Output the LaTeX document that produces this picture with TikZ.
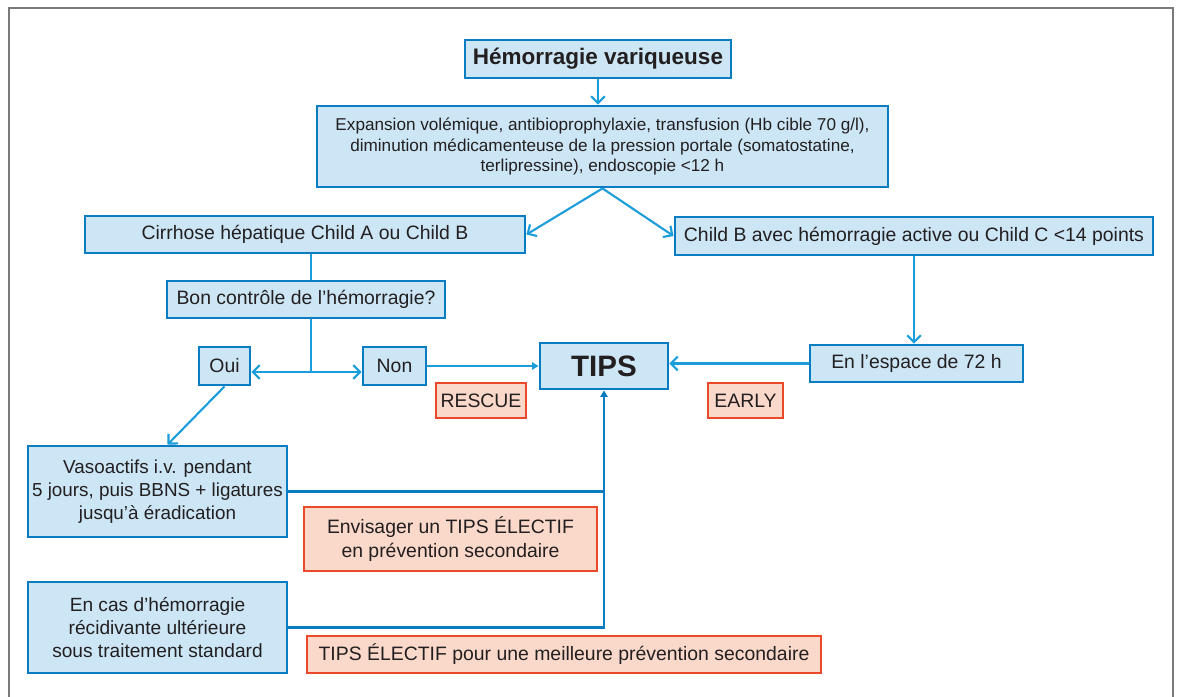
\documentclass[tikz,border=0pt]{standalone}
\usepackage{fontspec}
\setmainfont{Liberation Sans}
\usetikzlibrary{arrows.meta}

\definecolor{boxfill}{HTML}{CCE6F6}
\definecolor{boxline}{HTML}{0A7DC2}
\definecolor{linkblue}{HTML}{1B9DDB}
\definecolor{notefill}{HTML}{FAD9CA}
\definecolor{noteline}{HTML}{EA4A2A}
\definecolor{inktext}{HTML}{231F20}
\definecolor{framegray}{HTML}{7A7A7A}

\begin{document}
\begin{tikzpicture}[x=0.025cm, y=-0.025cm,
    every node/.style={font=\fontsize{13.8}{16}\selectfont, text=inktext, inner sep=0pt, align=center},
    bluebox/.style={draw=boxline, fill=boxfill, line width=2pt},
    notebox/.style={draw=noteline, fill=notefill, line width=2pt},
    link/.style={draw=linkblue, line width=1.5pt},
    chevron/.style={-{Straight Barb[length=1.7mm,width=3.4mm]}},
    tipin/.style={-{Triangle[length=1.6mm,width=1.8mm]}}]
    \useasboundingbox (0,0) rectangle (1178,697);
    \draw [framegray, line width=1.1pt] (9,697) -- (9,8) -- (1173,8) -- (1173,697);
    % boxes
    \node (title) [bluebox, minimum width=6.65cm, minimum height=0.95cm, font=\bfseries\fontsize{16}{19}\selectfont] at (598,59) {Hémorragie variqueuse};
    \node (expansion) [bluebox, minimum width=14.275cm, minimum height=2.025cm, font=\fontsize{12.2}{14.6}\selectfont] at (602.5,146.5)
        {Expansion volémique, antibioprophylaxie, transfusion (Hb cible 70 g/l),\\ diminution médicamenteuse de la pression portale (somatostatine,\\ terlipressine), endoscopie <12 h};
    \node (cirrhose) [bluebox, minimum width=11cm, minimum height=0.925cm] at (305,234.5) {Cirrhose hépatique Child A ou Child B};
    \node (child_b) [bluebox, minimum width=11.95cm, minimum height=0.95cm] at (914,236) {Child B avec hémorragie active ou Child C <14 points};
    \node (bon_controle) [bluebox, minimum width=6.95cm, minimum height=0.925cm] at (306,299.5) {Bon contrôle de l’hémorragie?};
    \node (oui) [bluebox, minimum width=1.275cm, minimum height=0.95cm] at (224.5,366) {Oui};
    \node (non) [bluebox, minimum width=1.575cm, minimum height=0.95cm] at (394.5,366) {Non};
    \node (tips) [bluebox, minimum width=3.2cm, minimum height=1.15cm, font=\bfseries\fontsize{21}{25}\selectfont] at (604,366) {TIPS};
    \node (espace) [bluebox, minimum width=5.325cm, minimum height=0.925cm] at (916.5,363.5) {En l’espace de 72 h};
    \node (rescue) [notebox, minimum width=2.25cm, minimum height=0.875cm] at (481,400.5) {RESCUE};
    \node (early) [notebox, minimum width=1.875cm, minimum height=0.875cm] at (745.5,400.5) {EARLY};
    \node (vasoactifs) [bluebox, minimum width=6.475cm, minimum height=2.275cm, font=\fontsize{13.4}{16.5}\selectfont] at (157.5,491.5)
        {Vasoactifs i.v. pendant\\ 5 jours, puis BBNS + ligatures\\ jusqu’à éradication};
    \node (envisager) [notebox, minimum width=7.325cm, minimum height=1.6cm, font=\fontsize{13.8}{16.5}\selectfont] at (450.5,539)
        {Envisager un TIPS ÉLECTIF\\ en prévention secondaire};
    \node (recidive) [bluebox, minimum width=6.475cm, minimum height=2.275cm, font=\fontsize{13.6}{16.5}\selectfont] at (157.5,627.5)
        {En cas d’hémorragie\\ récidivante ultérieure\\ sous traitement standard};
    \node (electif) [notebox, minimum width=12.85cm, minimum height=0.925cm] at (564,654.5) {TIPS ÉLECTIF pour une meilleure prévention secondaire};
    \coordinate (fork) at (311,372);
    % connectors
    \draw [link, chevron] (title.south) -- (title.south |- expansion.north);
    \draw [link, chevron] (expansion.south) -- (cirrhose.east);
    \draw [link, chevron] (expansion.south) -- (child_b.west);
    \draw [link] (fork |- cirrhose.south) -- (fork |- bon_controle.north);
    \draw [link] (fork |- bon_controle.south) -- (fork);
    \draw [link, chevron] (fork) -- (fork -| oui.east);
    \draw [link, chevron] (fork) -- (fork -| non.west);
    \draw [link, tipin] (non) -- (tips);
    \draw [link, chevron] (oui.south) -- ([xshift=0.25cm]vasoactifs.north);
    \draw [link, chevron] (child_b.south) -- (child_b.south |- espace.north);
    \draw [link, chevron] (espace.west) -- (espace.west -| tips.east);
    \draw [link, draw=boxline] (vasoactifs.east) -- (vasoactifs.east -| tips.south);
    \draw [link, draw=boxline, tipin] (recidive.east) -| (tips.south);
\end{tikzpicture}
\end{document}
